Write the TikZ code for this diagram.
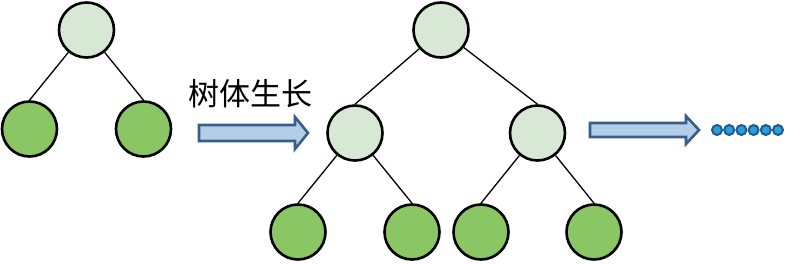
\documentclass[tikz,border=0pt]{standalone}
\usepackage{fontspec}
\newfontfamily\cjk{Noto Sans CJK SC}
\definecolor{rootfill}{HTML}{D7E8D5}
\definecolor{leaffill}{HTML}{8BC665}
\definecolor{arrfill}{HTML}{B3CEE8}
\definecolor{arrdraw}{HTML}{3A5E8C}
\definecolor{dotfill}{HTML}{2A9FDA}
\definecolor{dotdraw}{HTML}{1F5B8F}
\tikzset{
  inner/.style={circle,draw=black,line width=2.6pt,fill=rootfill,minimum size=55pt,inner sep=0pt},
  leaf/.style={circle,draw=black,line width=2.6pt,fill=leaffill,minimum size=55pt,inner sep=0pt},
  link/.style={draw=black,line width=1.3pt},
  fatarrow/.style={draw=arrdraw,fill=arrfill,line width=2.6pt,line join=miter},
  dot/.style={circle,draw=dotdraw,fill=dotfill,line width=2pt,minimum size=10pt,inner sep=0pt},
}
\begin{document}
\begin{tikzpicture}[x=1pt,y=-1pt]
\useasboundingbox (0,0) rectangle (787,263);
% left tree
\node[inner] (a) at (86.5,30) {};
\node[leaf] (a1) at (29.5,129) {};
\node[leaf] (a2) at (143.5,129) {};
\draw[link] (a) -- (a1.north);
\draw[link] (a) -- (a2.north);
% middle tree
\node[inner] (b) at (441,30) {};
\node[inner] (b1) at (355,133) {};
\node[inner] (b2) at (537.5,133) {};
\node[leaf] (b11) at (298,232) {};
\node[leaf] (b12) at (412,232) {};
\node[leaf] (b21) at (481,232) {};
\node[leaf] (b22) at (594,232) {};
\draw[link] (b) -- (b1.north);
\draw[link] (b) -- (b2.north);
\draw[link] (b1) -- (b11.north);
\draw[link] (b1) -- (b12.north);
\draw[link] (b2) -- (b21.north);
\draw[link] (b2) -- (b22.north);
% label
\node[font=\cjk\fontsize{31}{31}\selectfont,inner sep=0pt] (t) at (250,94) {树体生长};
% arrows
\draw[fatarrow] (199,125) -- (295,125) -- (295,117) -- (308,133) -- (295,149) -- (295,141) -- (199,141) -- cycle;
\draw[fatarrow] (590,123) -- (686,123) -- (686,116) -- (699,130) -- (686,144) -- (686,137) -- (590,137) -- cycle;
% dots
\foreach \i in {0,...,5} {
  \node[dot] (d\i) at (717+12.2*\i,130) {};
}
\end{tikzpicture}
\end{document}
